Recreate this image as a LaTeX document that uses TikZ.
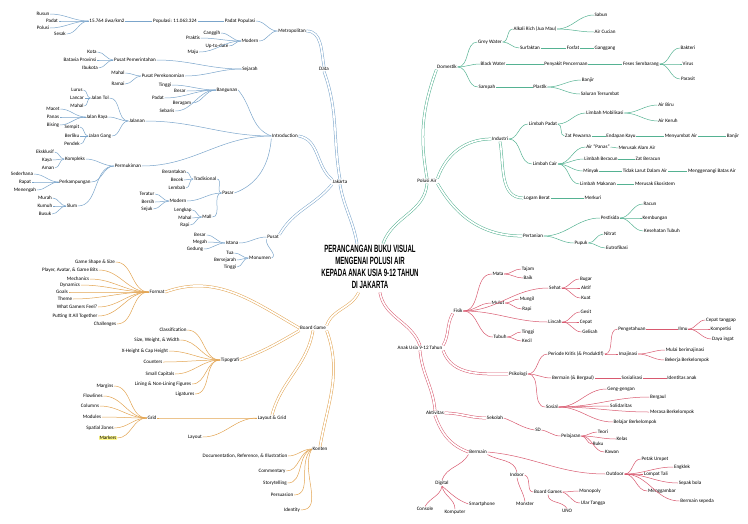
\documentclass[tikz,border=0pt]{standalone}
\usepackage{fontspec}
\setmainfont{Carlito}
\newfontfamily\judulfont{Liberation Sans}
\usepackage{tikz}
\definecolor{birucl}{HTML}{7BA5CB}
\definecolor{hijaucl}{HTML}{55B292}
\definecolor{merahcl}{HTML}{D8596F}
\definecolor{oranyecl}{HTML}{E2A452}

\begin{document}
\begin{tikzpicture}[x=1pt,y=-1pt,
	every node/.style={font=\fontsize{5.1}{6}\selectfont, inner sep=0.6pt, text=black},
	biru/.style={draw=birucl, line width=0.5pt},
	hijau/.style={draw=hijaucl, line width=0.5pt},
	merah/.style={draw=merahcl, line width=0.5pt},
	oranye/.style={draw=oranyecl, line width=0.5pt},
	dahan/.style={double=white, double distance=1.7pt, line width=0.5pt},
	kiri/.style={out=180,in=0},
	kanan/.style={out=0,in=180}
	]
	\useasboundingbox (0,0) rectangle (748,523);

	\node[font=\judulfont\bfseries\fontsize{10.5}{11.8}\selectfont, text=black] (judul) at (370,268) {\scalebox{0.58}[1]{\begin{tabular}{@{}c@{}}PERANCANGAN BUKU VISUAL\\MENGENAI POLUSI AIR\\KEPADA ANAK USIA 9-12 TAHUN\\DI JAKARTA\end{tabular}}};

	% Jakarta
	\node (jakarta) at (340,182) {Jakarta};
	\node (data) at (324,69) {Data};
	\node (metro) at (292,31) {Metropolitan};
	\node (padatpop) at (240,21) {Padat Populasi};
	\node (populasi) at (175,21) {Populasi: 11.063.324};
	\node (kepadatan) at (107,21) {15.764 Jiwa/km2};
	\node (rusun) at (43,14) {Rusun};
	\node (padat) at (52,21) {Padat};
	\node (polusi) at (43,28) {Polusi};
	\node (sesak) at (60,34) {Sesak};
	\node (modern) at (250,41) {Modern};
	\node (canggih) at (212,33) {Canggih};
	\node (praktis) at (193,38) {Praktis};
	\node (uptodate) at (217,46) {Up-to-date};
	\node (maju) at (193,52) {Maju};
	\node (sejarah) at (250,69) {Sejarah};
	\node (pemerintahan) at (135,60) {Pusat Pemerintahan};
	\node (kota) at (92,52) {Kota};
	\node (batavia) at (80,60) {Batavia Provinsi};
	\node (ibukota) at (90,68) {Ibukota};
	\node (perekonomian) at (163,76) {Pusat Perekonomian};
	\node (mahal) at (118,73) {Mahal};
	\node (ramai) at (118,84) {Ramai};

	\node (intro) at (285,136) {Introduction};
	\node (bangunan) at (227,90) {Bangunan};
	\node (tinggi) at (165,85) {Tinggi};
	\node (besar) at (180,91) {Besar};
	\node (padatb) at (158,98) {Padat};
	\node (beragam) at (182,103) {Beragam};
	\node (sebaris) at (167,111) {Sebaris};
	\node (jalanan) at (137,121) {Jalanan};
	\node (jtol) at (100,98) {Jalan Tol};
	\node (lurus) at (77,90) {Lurus};
	\node (lancar) at (77,98) {Lancar};
	\node (mahaltol) at (77,106) {Mahal};
	\node (jraya) at (97,117) {Jalan Raya};
	\node (macet) at (53,109) {Macet};
	\node (panas) at (53,117) {Panas};
	\node (bising) at (53,125) {Bising};
	\node (jgang) at (100,136) {Jalan Gang};
	\node (sempit) at (72,127) {Sempit};
	\node (berliku) at (72,136) {Berliku};
	\node (pendek) at (72,144) {Pendek};
	\node (permukiman) at (128,166) {Permukiman};
	\node (kompleks) at (75,159) {Kompleks};
	\node (eksklusif) at (45,152) {Eksklusif};
	\node (kaya) at (47,160) {Kaya};
	\node (aman) at (48,168) {Aman};
	\node (kampung) at (75,182) {Perkampungan};
	\node (sederhana) at (22,174) {Sederhana};
	\node (rapat) at (25,182) {Rapat};
	\node (menengah) at (25,190) {Menengah};
	\node (slum) at (72,206) {Slum};
	\node (murah) at (45,198) {Murah};
	\node (kumuh) at (45,206) {Kumuh};
	\node (busuk) at (45,214) {Busuk};

	\node (pasar) at (228,193) {Pasar};
	\node (tradisional) at (205,179) {Tradisional};
	\node (berantakan) at (174,172) {Berantakan};
	\node (becek) at (177,180) {Becek};
	\node (lembab) at (177,188) {Lembab};
	\node (pmodern) at (178,201) {Modern};
	\node (teratur) at (147,194) {Teratur};
	\node (bersih) at (148,202) {Bersih};
	\node (sejuk) at (147,209) {Sejuk};
	\node (mall) at (207,217) {Mall};
	\node (lengkap) at (183,210) {Lengkap};
	\node (mahalmall) at (185,218) {Mahal};
	\node (rapi) at (185,225) {Rapi};

	\node (pusat) at (273,237) {Pusat};
	\node (istana) at (232,243) {Istana};
	\node (besari) at (200,235) {Besar};
	\node (megah) at (200,242) {Megah};
	\node (gedung) at (195,249) {Gedung};
	\node (monumen) at (260,258) {Monumen};
	\node (tua) at (230,253) {Tua};
	\node (bersejarah) at (225,260) {Bersejarah};
	\node (tinggim) at (230,267) {Tinggi};

	\draw[biru,dahan] (jakarta.north) to[out=100,in=-70] (data.south);
	\draw[biru,dahan] (intro.east) to[out=-10,in=140] (jakarta.north west);
	\draw[biru,dahan] (pusat.north east) to[out=60,in=-130] (jakarta.south west);
	\draw[biru,dahan] (jakarta.south) to[out=-80,in=100] (judul.118);
	\draw[biru,dahan] (data.north) to[out=100,in=0] (metro.east);
	\draw[biru,dahan] (data.west) to[kiri] (sejarah.east);
	\draw[biru] (metro.west) edge[kiri] (padatpop.east) edge[kiri] (modern.east);
	\draw[biru] (padatpop.west) -- (populasi.east);
	\draw[biru] (populasi.west) -- (kepadatan.east);
	\draw[biru] (kepadatan.west) edge[kiri] (rusun.east) edge[kiri] (padat.east) edge[kiri] (polusi.east) edge[kiri] (sesak.east);
	\draw[biru] (modern.west) edge[kiri] (canggih.east) edge[kiri] (praktis.east) edge[kiri] (uptodate.east) edge[kiri] (maju.east);
	\draw[biru] (sejarah.west) edge[kiri] (pemerintahan.east) edge[kiri] (perekonomian.east);
	\draw[biru] (pemerintahan.west) edge[kiri] (kota.east) edge[kiri] (batavia.east) edge[kiri] (ibukota.east);
	\draw[biru] (perekonomian.west) edge[kiri] (mahal.east) edge[kiri] (ramai.east);
	\draw[biru] (bangunan.east) to[out=-50,in=160] (intro.west);
	\draw[biru] (bangunan.west) edge[kiri] (tinggi.east) edge[kiri] (besar.east) edge[kiri] (padatb.east) edge[kiri] (beragam.east) edge[kiri] (sebaris.east);
	\draw[biru] (intro.west) edge[kiri] (jalanan.east) edge[kiri] (permukiman.east);
	\draw[biru] (jalanan.west) edge[kiri] (jtol.east) edge[kiri] (jraya.east) edge[kiri] (jgang.east);
	\draw[biru] (jtol.west) edge[kiri] (lurus.east) edge[kiri] (lancar.east) edge[kiri] (mahaltol.east);
	\draw[biru] (jraya.west) edge[kiri] (macet.east) edge[kiri] (panas.east) edge[kiri] (bising.east);
	\draw[biru] (jgang.west) edge[kiri] (sempit.east) edge[kiri] (berliku.east) edge[kiri] (pendek.east);
	\draw[biru] (permukiman.west) edge[kiri] (kompleks.east) edge[kiri] (kampung.east) edge[kiri] (slum.east);
	\draw[biru] (kompleks.west) edge[kiri] (eksklusif.east) edge[kiri] (kaya.east) edge[kiri] (aman.east);
	\draw[biru] (kampung.west) edge[kiri] (sederhana.east) edge[kiri] (rapat.east) edge[kiri] (menengah.east);
	\draw[biru] (slum.west) edge[kiri] (murah.east) edge[kiri] (kumuh.east) edge[kiri] (busuk.east);
	\draw[biru] (intro.south west) to[out=-95,in=20] (pasar.east);
	\draw[biru] (pasar.west) edge[kiri] (tradisional.east) edge[kiri] (pmodern.east) edge[kiri] (mall.east);
	\draw[biru] (tradisional.west) edge[kiri] (berantakan.east) edge[kiri] (becek.east) edge[kiri] (lembab.east);
	\draw[biru] (pmodern.west) edge[kiri] (teratur.east) edge[kiri] (bersih.east) edge[kiri] (sejuk.east);
	\draw[biru] (mall.west) edge[kiri] (lengkap.east) edge[kiri] (mahalmall.east) edge[kiri] (rapi.east);
	\draw[biru] (pusat.west) to[kiri] (istana.east);
	\draw[biru] (pusat.south west) to[out=-100,in=30] (monumen.east);
	\draw[biru] (istana.west) edge[kiri] (besari.east) edge[kiri] (megah.east) edge[kiri] (gedung.east);
	\draw[biru] (monumen.west) edge[kiri] (tua.east) edge[kiri] (bersejarah.east) edge[kiri] (tinggim.east);

	% Polusi Air
	\node (polusiair) at (427,181) {Polusi Air};
	\node (domestik) at (447,67) {Domestik};
	\node (greywater) at (490,42) {Grey Water};
	\node (alkali) at (535,29) {Alkali Rich (Jua Mau)};
	\node (sabun) at (601,15) {Sabun};
	\node (cucian) at (605,32) {Air Cucian};
	\node (surfaktan) at (530,48) {Surfaktan};
	\node (fosfat) at (573,48) {Fosfat};
	\node (ganggang) at (605,48) {Ganggang};
	\node (blackwater) at (493,64) {Black Water};
	\node (penyakit) at (566,64) {Penyakit Pencernaan};
	\node (feses) at (641,64) {Feses Sembarang};
	\node (bakteri) at (688,48) {Bakteri};
	\node (virus) at (688,64) {Virus};
	\node (parasit) at (688,79) {Parasit};
	\node (sampah) at (487,87) {Sampah};
	\node (plastik) at (540,87) {Plastik};
	\node (banjir) at (588,80) {Banjir};
	\node (tersumbat) at (600,94) {Saluran Tersumbat};
	\node (industri) at (500,139) {Industri};
	\node (limbahpadat) at (543,124) {Limbah Padat};
	\node (logamsisa) at (605,113) {Limbah Mobilisasi};
	\node (airbiru) at (666,105) {Air Biru};
	\node (airkeruh) at (668,121) {Air Keruh};
	\node (serbuk) at (578,136) {Zat Pewarna};
	\node (endapan) at (621,136) {Endapan Kayu};
	\node (menyumbat) at (681,136) {Menyumbat Air};
	\node (banjirb) at (733,136) {Banjir};
	\node (limbahcair) at (545,164) {Limbah Cair};
	\node (airpanas) at (598,147) {Air ``Panas''};
	\node (alamair) at (637,148) {Merusak Alam Air};
	\node (beracun) at (601,159) {Limbah Beracun};
	\node (zatracun) at (648,159) {Zat Beracun};
	\node (minyak) at (591,171) {Minyak};
	\node (tidaklarut) at (645,171) {Tidak Larut Dalam Air};
	\node (genang) at (712,171) {Menggenangi Batas Air};
	\node (makanan) at (598,184) {Limbah Makanan};
	\node (ekosistem) at (655,184) {Merusak Ekosistem};
	\node (logamberat) at (537,198) {Logam Berat};
	\node (merkuri) at (593,198) {Merkuri};
	\node (pertanian) at (533,236) {Pertanian};
	\node (pestisida) at (610,218) {Pestisida};
	\node (racun) at (650,204) {Racun};
	\node (kembung) at (655,218) {Kembungan};
	\node (kesehatan) at (662,231) {Kesehatan Tubuh};
	\node (pupuk) at (581,243) {Pupuk};
	\node (nitrat) at (610,234) {Nitrat};
	\node (eutrofikasi) at (617,248) {Eutrofikasi};

	\draw[hijau,dahan] (polusiair.north) to[out=100,in=-110] (domestik.south west);
	\draw[hijau,dahan] (polusiair.north east) to[out=70,in=180] (industri.west);
	\draw[hijau,dahan] (polusiair.south east) to[out=-60,in=180] (pertanian.west);
	\draw[hijau,dahan] (polusiair.south) to[out=-95,in=70] (judul.62);
	\draw[hijau,dahan] (domestik.east) edge[kanan] (greywater.west) edge[kanan] (blackwater.west) edge[kanan] (sampah.west);
	\draw[hijau,dahan] (industri.east) edge[kanan] (limbahpadat.west) edge[kanan] (limbahcair.west);
	\draw[hijau,dahan] (industri.south) to[out=-80,in=180] (logamberat.west);
	\draw[hijau,dahan] (pertanian.east) edge[kanan] (pestisida.west) edge[kanan] (pupuk.west);
	\draw[hijau] (greywater.east) edge[kanan] (alkali.west) edge[kanan] (surfaktan.west);
	\draw[hijau] (alkali.east) edge[kanan] (sabun.west) edge[kanan] (cucian.west);
	\draw[hijau] (surfaktan.east) -- (fosfat.west);
	\draw[hijau] (fosfat.east) -- (ganggang.west);
	\draw[hijau] (blackwater.east) -- (penyakit.west);
	\draw[hijau] (penyakit.east) -- (feses.west);
	\draw[hijau] (feses.east) edge[kanan] (bakteri.west) edge[kanan] (virus.west) edge[kanan] (parasit.west);
	\draw[hijau] (sampah.east) -- (plastik.west);
	\draw[hijau] (plastik.east) edge[kanan] (banjir.west) edge[kanan] (tersumbat.west);
	\draw[hijau] (limbahpadat.east) edge[kanan] (logamsisa.west) edge[kanan] (serbuk.west);
	\draw[hijau] (logamsisa.east) edge[kanan] (airbiru.west) edge[kanan] (airkeruh.west);
	\draw[hijau] (serbuk.east) -- (endapan.west);
	\draw[hijau] (endapan.east) -- (menyumbat.west);
	\draw[hijau] (menyumbat.east) -- (banjirb.west);
	\draw[hijau] (limbahcair.east) edge[kanan] (airpanas.west) edge[kanan] (beracun.west) edge[kanan] (minyak.west) edge[kanan] (makanan.west);
	\draw[hijau] (airpanas.east) -- (alamair.west);
	\draw[hijau] (beracun.east) -- (zatracun.west);
	\draw[hijau] (minyak.east) -- (tidaklarut.west);
	\draw[hijau] (tidaklarut.east) -- (genang.west);
	\draw[hijau] (makanan.east) -- (ekosistem.west);
	\draw[hijau] (logamberat.east) -- (merkuri.west);
	\draw[hijau] (pestisida.east) edge[kanan] (racun.west) edge[kanan] (kembung.west) edge[kanan] (kesehatan.west);
	\draw[hijau] (pupuk.east) edge[kanan] (nitrat.west) edge[kanan] (eutrofikasi.west);

	% Anak
	\node (anak) at (420,348) {Anak Usia 9-12 Tahun};
	\node (fisik) at (458,311) {Fisik};
	\node (mata) at (498,274) {Mata};
	\node (tajam) at (528,269) {Tajam};
	\node (baik) at (528,278) {Baik};
	\node (sehat) at (555,288) {Sehat};
	\node (bugar) at (586,279) {Bugar};
	\node (aktif) at (586,288) {Aktif};
	\node (kuat) at (586,298) {Kuat};
	\node (mulut) at (498,303) {Mulut};
	\node (mungil) at (527,299) {Mungil};
	\node (rapim) at (527,309) {Rapi};
	\node (lincah) at (555,322) {Lincah};
	\node (gesit) at (586,312) {Gesit};
	\node (cepat) at (586,322) {Cepat};
	\node (gelisah) at (590,332) {Gelisah};
	\node (tubuh) at (500,337) {Tubuh};
	\node (tinggia) at (528,332) {Tinggi};
	\node (kecil) at (527,341) {Kecil};
	\node (psikologi) at (518,374) {Psikologi};
	\node (periode) at (576,354) {Periode Kritis (\& Produktif)};
	\node (pengetahuan) at (632,329) {Pengetahuan};
	\node (ilmu) at (683,329) {Ilmu};
	\node (tanggap) at (721,320) {Cepat tanggap};
	\node (kompetisi) at (721,329) {Kompetisi};
	\node (ingat) at (723,339) {Daya ingat};
	\node (imajinasi) at (628,354) {Imajinasi};
	\node (berimajinasi) at (685,350) {Mulai berimajinasi};
	\node (kelompok) at (687,360) {Bekerja Berkelompok};
	\node (bergaul) at (573,378) {Bermain (\& Bergaul)};
	\node (sosialisasi) at (632,378) {Sosialisasi};
	\node (identitas) at (682,378) {Identitas anak};
	\node (sosial) at (552,407) {Sosial};
	\node (geng) at (621,389) {Geng-gengan};
	\node (bergaulb) at (658,397) {Bergaul};
	\node (solidaritas) at (621,406) {Solidaritas};
	\node (merasa) at (672,412) {Merasa Berkelompok};
	\node (belajar) at (635,422) {Belajar Berkelompok};
	\node (aktivitas) at (435,413) {Aktivitas};
	\node (sekolah) at (495,418) {Sekolah};
	\node (sd) at (538,430) {SD};
	\node (pelajaran) at (571,436) {Pelajaran};
	\node (teori) at (603,432) {Teori};
	\node (kelas) at (622,439) {Kelas};
	\node (buku) at (598,444) {Buku};
	\node (kawan) at (612,452) {Kawan};
	\node (bermain) at (478,452) {Bermain};
	\node (digital) at (442,483) {Digital};
	\node (console) at (425,509) {Console};
	\node (komputer) at (455,512) {Komputer};
	\node (smartphone) at (482,504) {Smartphone};
	\node (indoor) at (517,475) {Indoor};
	\node (monster) at (525,504) {Monster};
	\node (boardgames) at (548,492) {Board Games};
	\node (monopoly) at (590,491) {Monopoly};
	\node (ulartangga) at (593,503) {Ular Tangga};
	\node (uno) at (567,511) {UNO};
	\node (outdoor) at (615,474) {Outdoor};
	\node (petak) at (655,459) {Petak Umpet};
	\node (engklek) at (682,467) {Engklek};
	\node (lompat) at (656,474) {Lompat Tali};
	\node (sepakbola) at (690,483) {Sepak bola};
	\node (menggambar) at (662,491) {Menggambar};
	\node (sepeda) at (697,501) {Bermain sepeda};

	\draw[merah,dahan] (anak.north) to[out=110,in=-80] (judul.-68);
	\draw[merah,dahan] (anak.north east) to[out=60,in=-120] (fisik.south west);
	\draw[merah,dahan] (anak.south east) to[out=-70,in=180] (psikologi.west);
	\draw[merah,dahan] (anak.south) to[out=-85,in=95] (aktivitas.north);
	\draw[merah,dahan] (aktivitas.east) to[kanan] (sekolah.west);
	\draw[merah,dahan] (aktivitas.south) to[out=-70,in=160] (bermain.west);
	\draw[merah] (fisik.east) edge[kanan] (mata.west) edge[kanan] (sehat.west) edge[kanan] (mulut.west) edge[kanan] (lincah.west) edge[kanan] (tubuh.west);
	\draw[merah] (mata.east) edge[kanan] (tajam.west) edge[kanan] (baik.west);
	\draw[merah] (sehat.east) edge[kanan] (bugar.west) edge[kanan] (aktif.west) edge[kanan] (kuat.west);
	\draw[merah] (mulut.east) edge[kanan] (mungil.west) edge[kanan] (rapim.west);
	\draw[merah] (lincah.east) edge[kanan] (gesit.west) edge[kanan] (cepat.west) edge[kanan] (gelisah.west);
	\draw[merah] (tubuh.east) edge[kanan] (tinggia.west) edge[kanan] (kecil.west);
	\draw[merah] (psikologi.east) edge[kanan] (periode.west) edge[kanan] (bergaul.west) edge[kanan] (sosial.west);
	\draw[merah] (periode.east) edge[kanan] (pengetahuan.west) edge[kanan] (imajinasi.west);
	\draw[merah] (pengetahuan.east) -- (ilmu.west);
	\draw[merah] (ilmu.east) edge[kanan] (tanggap.west) edge[kanan] (kompetisi.west) edge[kanan] (ingat.west);
	\draw[merah] (imajinasi.east) edge[kanan] (berimajinasi.west) edge[kanan] (kelompok.west);
	\draw[merah] (bergaul.east) -- (sosialisasi.west);
	\draw[merah] (sosialisasi.east) -- (identitas.west);
	\draw[merah] (sosial.east) edge[kanan] (geng.west) edge[kanan] (bergaulb.west) edge[kanan] (solidaritas.west) edge[kanan] (merasa.west) edge[kanan] (belajar.west);
	\draw[merah] (sekolah.east) to[out=-20,in=170] (sd.west);
	\draw[merah] (sd.east) to[out=-10,in=180] (pelajaran.west);
	\draw[merah] (pelajaran.east) edge[kanan] (teori.west) edge[kanan] (kelas.west) edge[kanan] (buku.west) edge[kanan] (kawan.west);
	\draw[merah] (bermain.east) to[out=-5,in=180] (outdoor.west);
	\draw[merah] (bermain.south west) to[out=-120,in=70] (digital.north);
	\draw[merah] (bermain.south east) to[out=-30,in=100] (indoor.north);
	\draw[merah] (digital.south) edge[out=-100,in=60] (console.north) edge[out=-80,in=90] (komputer.north) edge[out=-40,in=160] (smartphone.west);
	\draw[merah] (indoor.south) to[out=-80,in=100] (monster.north);
	\draw[merah] (indoor.east) to[out=-20,in=180] (boardgames.west);
	\draw[merah] (boardgames.east) edge[kanan] (monopoly.west) edge[out=-20,in=180] (ulartangga.west);
	\draw[merah] (boardgames.south) to[out=-90,in=120] (uno.north);
	\draw[merah] (outdoor.east) edge[kanan] (petak.west) edge[kanan] (engklek.west) edge[kanan] (lompat.west) edge[kanan] (sepakbola.west) edge[kanan] (menggambar.west) edge[kanan] (sepeda.west);

	% Board Game
	\node (boardgame) at (313,328) {Board Game};
	\node (format) at (157,292) {Format};
	\node (gameshape) at (95,262) {Game Shape \& Size};
	\node (player) at (70,270) {Player, Avatar, \& Game Bits};
	\node (mechanics) at (78,279) {Mechanics};
	\node (dynamics) at (70,285) {Dynamics};
	\node (goals) at (62,292) {Goals};
	\node (theme) at (65,299) {Theme};
	\node (feel) at (77,307) {What Gamers Feel?};
	\node (together) at (75,316) {Putting It All Together};
	\node (challenges) at (105,324) {Challenges};
	\node (tipografi) at (230,360) {Tipografi};
	\node (klasifikasi) at (173,330) {Classification};
	\node (size) at (157,340) {Size, Weight, \& Width};
	\node (xheight) at (145,351) {X-Height \& Cap Height};
	\node (counters) at (153,362) {Counters};
	\node (smallcaps) at (160,374) {Small Capitals};
	\node (lining) at (163,384) {Lining \& Non-Lining Figures};
	\node (ligatures) at (185,394) {Ligatures};
	\node (layoutgrid) at (272,418) {Layout \& Grid};
	\node (grid) at (152,418) {Grid};
	\node (margins) at (105,386) {Margins};
	\node (flowlines) at (93,396) {Flowlines};
	\node (columns) at (90,406) {Columns};
	\node (modules) at (92,417) {Modules};
	\node (spatial) at (100,428) {Spatial Zones};
	\node[fill=yellow!45] (markers) at (108,438) {Markers};
	\node (layout) at (195,437) {Layout};
	\node (konten) at (320,449) {Konten};
	\node (dokumentasi) at (245,456) {Documentation, Reference, \& Illustration};
	\node (commentary) at (272,471) {Commentary};
	\node (storytelling) at (275,483) {Storytelling};
	\node (persuasion) at (282,495) {Persuasion};
	\node (identity) at (292,510) {Identity};

	\draw[oranye,dahan] (boardgame.north east) to[out=70,in=-115] (judul.-115);
	\draw[oranye,dahan] (format.east) to[out=20,in=150] (boardgame.west);
	\draw[oranye,dahan] (tipografi.east) to[out=20,in=-150] (boardgame.south west);
	\draw[oranye,dahan] (layoutgrid.north) to[out=75,in=-100] (boardgame.south);
	\draw[oranye,dahan] (konten.north) to[out=80,in=-70] (boardgame.south east);
	\draw[oranye] (format.west) edge[kiri] (gameshape.east) edge[kiri] (player.east) edge[kiri] (mechanics.east) edge[kiri] (dynamics.east) edge[kiri] (goals.east) edge[kiri] (theme.east) edge[kiri] (feel.east) edge[kiri] (together.east) edge[kiri] (challenges.east);
	\draw[oranye] (tipografi.west) edge[kiri] (klasifikasi.east) edge[kiri] (size.east) edge[kiri] (xheight.east) edge[kiri] (counters.east) edge[kiri] (smallcaps.east) edge[kiri] (lining.east) edge[kiri] (ligatures.east);
	\draw[oranye] (layoutgrid.west) edge[kiri] (grid.east) edge[kiri] (layout.east);
	\draw[oranye] (grid.west) edge[kiri] (margins.east) edge[kiri] (flowlines.east) edge[kiri] (columns.east) edge[kiri] (modules.east) edge[kiri] (spatial.east) edge[kiri] (markers.east);
	\draw[oranye] (konten.west) edge[kiri] (dokumentasi.east) edge[out=190,in=0] (commentary.east) edge[out=200,in=0] (storytelling.east) edge[out=220,in=0] (persuasion.east) edge[out=240,in=0] (identity.east);
\end{tikzpicture}
\end{document}
